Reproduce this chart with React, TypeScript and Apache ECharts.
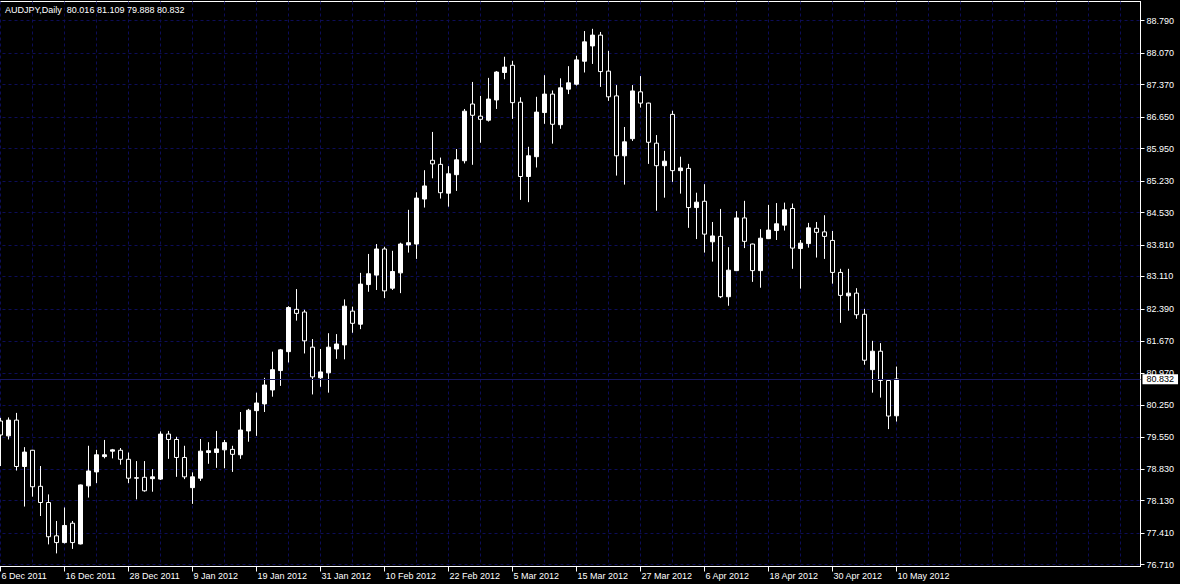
import React, { useEffect, useRef } from "react";
import * as echarts from "echarts";

const symbol = "AUDJPY";
const period = "Daily";

const dates = [
  "6 Dec 2011", "7 Dec 2011", "8 Dec 2011", "9 Dec 2011", "12 Dec 2011", "13 Dec 2011", "14 Dec 2011", "15 Dec 2011",
  "16 Dec 2011", "19 Dec 2011", "20 Dec 2011", "21 Dec 2011", "22 Dec 2011", "23 Dec 2011", "26 Dec 2011", "27 Dec 2011",
  "28 Dec 2011", "29 Dec 2011", "30 Dec 2011", "2 Jan 2012", "3 Jan 2012", "4 Jan 2012", "5 Jan 2012", "6 Jan 2012",
  "9 Jan 2012", "10 Jan 2012", "11 Jan 2012", "12 Jan 2012", "13 Jan 2012", "16 Jan 2012", "17 Jan 2012", "18 Jan 2012",
  "19 Jan 2012", "20 Jan 2012", "23 Jan 2012", "24 Jan 2012", "25 Jan 2012", "26 Jan 2012", "27 Jan 2012", "30 Jan 2012",
  "31 Jan 2012", "1 Feb 2012", "2 Feb 2012", "3 Feb 2012", "6 Feb 2012", "7 Feb 2012", "8 Feb 2012", "9 Feb 2012",
  "10 Feb 2012", "13 Feb 2012", "14 Feb 2012", "15 Feb 2012", "16 Feb 2012", "17 Feb 2012", "20 Feb 2012", "21 Feb 2012",
  "22 Feb 2012", "23 Feb 2012", "24 Feb 2012", "27 Feb 2012", "28 Feb 2012", "29 Feb 2012", "1 Mar 2012", "2 Mar 2012",
  "5 Mar 2012", "6 Mar 2012", "7 Mar 2012", "8 Mar 2012", "9 Mar 2012", "12 Mar 2012", "13 Mar 2012", "14 Mar 2012",
  "15 Mar 2012", "16 Mar 2012", "19 Mar 2012", "20 Mar 2012", "21 Mar 2012", "22 Mar 2012", "23 Mar 2012", "26 Mar 2012",
  "27 Mar 2012", "28 Mar 2012", "29 Mar 2012", "30 Mar 2012", "2 Apr 2012", "3 Apr 2012", "4 Apr 2012", "5 Apr 2012",
  "6 Apr 2012", "9 Apr 2012", "10 Apr 2012", "11 Apr 2012", "12 Apr 2012", "13 Apr 2012", "16 Apr 2012", "17 Apr 2012",
  "18 Apr 2012", "19 Apr 2012", "20 Apr 2012", "23 Apr 2012", "24 Apr 2012", "25 Apr 2012", "26 Apr 2012", "27 Apr 2012",
  "30 Apr 2012", "1 May 2012", "2 May 2012", "3 May 2012", "4 May 2012", "7 May 2012", "8 May 2012", "9 May 2012",
  "10 May 2012",
];

const open = [
  79.90, 79.57, 79.92, 78.89, 79.25, 78.45, 78.09, 77.35, 77.20, 77.63, 77.17, 78.46, 78.77, 79.11, 79.23, 79.25,
  79.05, 78.63, 78.65, 78.62, 78.61, 79.61, 79.49, 79.09, 78.42, 78.63, 79.20, 79.20, 79.26, 79.27, 79.15, 79.68,
  80.13, 80.28, 80.59, 81.02, 81.44, 82.38, 82.32, 81.54, 80.86, 80.97, 81.50, 81.59, 82.34, 82.05, 82.93, 83.14,
  83.72, 82.85, 83.19, 83.81, 83.83, 84.83, 85.69, 85.60, 84.96, 85.37, 85.68, 86.94, 86.67, 86.58, 87.03, 87.64,
  87.80, 86.98, 85.33, 85.77, 86.75, 87.16, 86.48, 87.27, 87.38, 87.89, 88.23, 88.47, 87.67, 87.12, 85.79, 86.17,
  87.21, 86.96, 86.07, 85.57, 86.71, 85.46, 85.51, 84.64, 84.78, 83.88, 84.00, 82.66, 83.24, 84.41, 83.83, 83.24,
  83.95, 84.13, 84.25, 84.62, 83.73, 83.84, 84.18, 84.10, 83.91, 83.20, 82.68, 82.74, 82.27, 81.04, 81.45, 80.80,
  80.016,
];

const high = [
  79.97, 79.98, 80.08, 79.32, 79.26, 78.90, 78.27, 77.68, 77.98, 77.68, 78.49, 79.35, 79.26, 79.48, 79.28, 79.30,
  79.20, 79.01, 79.01, 78.83, 79.67, 79.68, 79.55, 79.35, 78.76, 79.50, 79.43, 79.68, 79.48, 79.35, 80.10, 80.17,
  80.53, 80.86, 81.44, 81.50, 82.45, 82.83, 82.37, 81.72, 81.50, 81.85, 81.83, 82.60, 82.44, 83.19, 83.61, 83.83,
  83.77, 83.68, 83.86, 84.59, 84.98, 85.47, 86.32, 85.75, 85.56, 85.94, 86.83, 87.43, 87.12, 87.52, 87.67, 87.99,
  87.90, 87.09, 85.99, 87.10, 87.58, 87.24, 87.51, 87.78, 88.01, 88.56, 88.61, 88.54, 88.12, 87.36, 86.43, 87.36,
  87.56, 86.97, 86.25, 85.90, 86.79, 85.77, 85.61, 84.97, 85.16, 84.32, 84.61, 83.76, 84.56, 84.79, 83.84, 84.16,
  84.70, 84.74, 84.75, 84.73, 83.92, 84.30, 84.32, 84.47, 84.12, 83.28, 83.28, 82.85, 82.39, 81.68, 81.63, 80.83,
  81.109,
];

const low = [
  78.90, 79.49, 78.80, 78.00, 78.22, 77.79, 77.16, 76.96, 77.18, 77.06, 77.16, 78.20, 78.52, 79.07, 79.07, 78.93,
  78.52, 78.16, 78.33, 78.33, 78.59, 79.06, 78.66, 78.61, 78.06, 78.57, 78.95, 78.86, 78.85, 78.77, 79.06, 79.44,
  79.57, 80.10, 80.44, 80.68, 81.20, 82.13, 81.40, 80.49, 80.66, 80.53, 81.28, 81.27, 81.86, 81.94, 82.77, 82.81,
  82.63, 82.81, 82.74, 83.64, 83.50, 84.64, 85.29, 84.84, 84.66, 85.01, 85.62, 85.59, 86.08, 86.55, 86.83, 87.49,
  86.61, 84.81, 84.76, 85.53, 86.50, 86.06, 86.39, 87.16, 87.35, 87.64, 87.83, 87.32, 87.01, 85.35, 85.15, 86.12,
  86.86, 85.61, 84.57, 84.86, 85.21, 84.95, 84.19, 83.94, 83.64, 83.44, 82.63, 82.46, 83.23, 83.74, 82.99, 82.86,
  83.94, 83.92, 84.13, 83.28, 82.84, 83.75, 83.53, 83.50, 82.95, 82.08, 82.35, 82.17, 81.15, 80.53, 80.42, 79.72,
  79.888,
];

const close = [
  79.59, 79.92, 78.89, 79.21, 78.44, 78.09, 77.33, 77.20, 77.58, 77.20, 78.48, 78.79, 79.15, 79.15, 79.26, 79.05,
  78.63, 78.64, 78.35, 78.66, 79.61, 79.49, 79.09, 78.66, 78.66, 79.23, 79.24, 79.28, 79.42, 79.16, 79.70, 80.14,
  80.30, 80.70, 81.04, 81.48, 82.42, 82.29, 81.68, 80.88, 80.99, 81.54, 81.61, 82.45, 82.07, 82.94, 83.17, 83.72,
  82.79, 83.22, 83.83, 83.86, 84.85, 85.12, 85.61, 84.97, 85.39, 85.70, 86.78, 86.69, 86.60, 87.05, 87.65, 87.76,
  86.97, 85.33, 85.79, 86.76, 87.16, 86.49, 87.30, 87.41, 87.92, 88.32, 88.47, 87.66, 87.10, 85.79, 86.10, 87.23,
  86.96, 86.09, 85.57, 85.67, 85.46, 85.52, 84.64, 84.76, 84.05, 84.01, 82.66, 83.25, 84.41, 83.89, 83.24, 83.96,
  84.14, 84.28, 84.59, 83.74, 83.85, 84.19, 84.09, 84.00, 83.20, 82.69, 82.74, 82.26, 81.25, 81.45, 80.80, 80.01,
  80.832,
];

const priceTicks = [
  76.71, 77.41, 78.13, 78.83, 79.55, 80.25, 80.97, 81.67, 82.39,
  83.11, 83.81, 84.53, 85.23, 85.95, 86.65, 87.37, 88.07, 88.79,
];

const priceMin = 76.669;
const priceMax = 89.2164;
const futureSlots = 30;
const labelEvery = 8;
const gridEvery = 4;

const FONT = '"Liberation Sans", Arial, sans-serif';
const GRID_COLOR = "#0d0d58";
const PRICE_LINE_COLOR = "#17175e";

export default function App() {
  const ref = useRef<HTMLDivElement>(null);

  useEffect(() => {
    document.body.style.margin = "0";
    document.body.style.background = "#000";
    const chart = echarts.init(ref.current as HTMLDivElement, null, { renderer: "svg" });
    const n = dates.length;
    const last = n - 1;
    const categories = dates.concat(Array(futureSlots).fill(""));
    const candles = dates.map((_, i) => [open[i], close[i], low[i], high[i]]);
    const fmt = (v: number) => v.toFixed(3);
    const labelInterval = (i: number) => i % labelEvery === 0 && i < n;
    const gridInterval = (i: number) => i % gridEvery === 0;

    chart.setOption({
      animation: false,
      backgroundColor: "#000000",
      textStyle: { fontFamily: FONT },
      title: {
        text: `${symbol},${period}  ${fmt(open[last])} ${fmt(high[last])} ${fmt(low[last])} ${fmt(close[last])}`,
        left: 5,
        top: 5,
        padding: 0,
        textStyle: { color: "#ffffff", fontSize: 9, fontWeight: "normal", fontFamily: FONT },
      },
      grid: {
        left: -3.5,
        right: 39.5,
        top: 1.5,
        bottom: 17.5,
        show: true,
        borderColor: "#ffffff",
        borderWidth: 1,
        backgroundColor: "transparent",
        containLabel: false,
        outerBoundsMode: "none",
      },
      xAxis: {
        type: "category",
        data: categories,
        boundaryGap: true,
        axisLine: { show: true, lineStyle: { color: "#ffffff", width: 1 } },
        axisTick: {
          show: true,
          interval: labelInterval,
          alignWithLabel: true,
          length: 5,
          lineStyle: { color: "#ffffff" },
        },
        axisLabel: {
          interval: labelInterval,
          align: "left",
          margin: 5,
          color: "#ffffff",
          fontSize: 9,
          fontFamily: FONT,
          padding: [0, 0, 0, 1],
        },
        splitLine: {
          show: true,
          interval: gridInterval,
          alignWithLabel: true,
          lineStyle: { color: GRID_COLOR, type: [3, 3], width: 1 },
        },
      },
      yAxis: {
        type: "value",
        position: "right",
        min: priceMin,
        max: priceMax,
        axisLine: { show: true, lineStyle: { color: "#ffffff", width: 1 } },
        axisTick: {
          show: true,
          customValues: priceTicks,
          length: 4,
          lineStyle: { color: "#ffffff" },
        },
        axisLabel: {
          customValues: priceTicks,
          formatter: (v: number) => fmt(v),
          color: "#ffffff",
          fontSize: 9,
          fontFamily: FONT,
          margin: 6,
          align: "left",
        },
        splitLine: {
          show: true,
          lineStyle: { color: GRID_COLOR, type: [3, 3], width: 1 },
        },
      },
      series: [
        {
          type: "candlestick",
          data: candles,
          barWidth: 4,
          itemStyle: {
            color: "#ffffff",
            color0: "#000000",
            borderColor: "#ffffff",
            borderColor0: "#ffffff",
            borderWidth: 1,
          },
          emphasis: { disabled: true },
          markLine: {
            silent: true,
            animation: false,
            symbol: ["none", "none"],
            lineStyle: { color: PRICE_LINE_COLOR, type: "solid", width: 1 },
            label: {
              show: true,
              position: "end",
              formatter: fmt(close[last]),
              backgroundColor: "#ffffff",
              color: "#000000",
              fontSize: 9,
              fontFamily: FONT,
              padding: [1, 4, 0, 4],
              distance: 2,
            },
            emphasis: { disabled: true },
            data: [{ yAxis: close[last] }],
          },
        },
      ],
    });

    return () => chart.dispose();
  }, []);

  return (
    <div
      ref={ref}
      style={{ position: "absolute", left: 0, top: 0, width: 1180, height: 584 }}
    />
  );
}
